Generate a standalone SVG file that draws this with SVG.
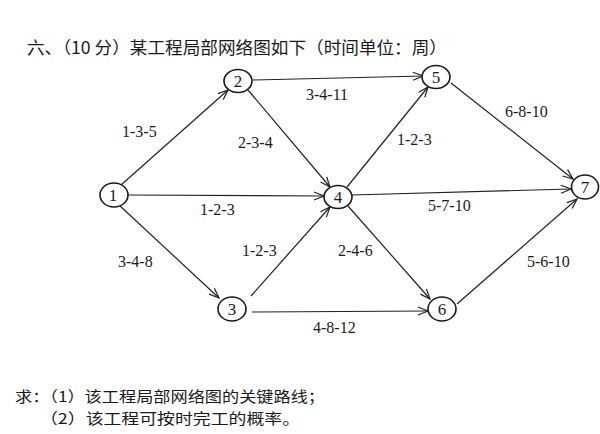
<svg xmlns="http://www.w3.org/2000/svg" width="600" height="434" viewBox="0 0 600 434">
<style>
.bg{fill:#fff}
.node ellipse{fill:#fff;stroke:#1a1a1a;stroke-width:1.6}
.node text{font-family:'Liberation Serif','DejaVu Serif','Times New Roman',serif;font-size:17px;fill:#1a1a1a;text-anchor:middle}
.edge{stroke:#222;stroke-width:1.2;fill:none;marker-end:url(#arr)}
.lbl{font-family:'Liberation Serif','DejaVu Serif','Times New Roman',serif;font-size:16px;fill:#1a1a1a}
.cn{font-family:'Noto Sans CJK SC',sans-serif;fill:#1a1a1a}
</style>
<defs>
<marker id="arr" viewBox="0 0 12 10" refX="11" refY="5" markerWidth="12" markerHeight="10" markerUnits="userSpaceOnUse" orient="auto">
<path d="M1,1 L11,5 L1,9" fill="none" stroke="#222" stroke-width="1.2"/>
</marker>
</defs>
<rect class="bg" width="600" height="434"/>
<text class="cn" x="27" y="54" font-size="17" textLength="420" lengthAdjust="spacingAndGlyphs">六、（10 分）某工程局部网络图如下（时间单位：周）</text>
<g id="connectors">
<line class="edge" x1="253" y1="80" x2="423" y2="76"/>
<line class="edge" x1="121" y1="185" x2="228" y2="90"/>
<line class="edge" x1="248" y1="90" x2="330" y2="187"/>
<line class="edge" x1="128" y1="195" x2="324" y2="196"/>
<line class="edge" x1="119" y1="205" x2="219" y2="298"/>
<line class="edge" x1="251" y1="296" x2="330" y2="207"/>
<line class="edge" x1="252" y1="312" x2="428" y2="311"/>
<line class="edge" x1="347" y1="187" x2="428" y2="87"/>
<line class="edge" x1="352" y1="195" x2="571" y2="189"/>
<line class="edge" x1="348" y1="206" x2="430" y2="299"/>
<line class="edge" x1="451" y1="83" x2="573" y2="179"/>
<line class="edge" x1="457" y1="304" x2="577" y2="199"/>
</g>
<g id="labels">
<text class="lbl" x="122" y="137">1-3-5</text>
<text class="lbl" x="306" y="100">3-4-11</text>
<text class="lbl" x="238" y="148">2-3-4</text>
<text class="lbl" x="200" y="215">1-2-3</text>
<text class="lbl" x="397" y="145">1-2-3</text>
<text class="lbl" x="505" y="117">6-8-10</text>
<text class="lbl" x="428" y="211">5-7-10</text>
<text class="lbl" x="118" y="267">3-4-8</text>
<text class="lbl" x="242" y="256">1-2-3</text>
<text class="lbl" x="313" y="333">4-8-12</text>
<text class="lbl" x="338" y="256">2-4-6</text>
<text class="lbl" x="527" y="267">5-6-10</text>
</g>
<g id="node1" class="node"><ellipse cx="114" cy="195" rx="14" ry="12"/><text x="113" y="201">1</text></g>
<g id="node2" class="node"><ellipse cx="238" cy="81" rx="14" ry="11.5"/><text x="238" y="87">2</text></g>
<g id="node3" class="node"><ellipse cx="232" cy="309" rx="14" ry="12"/><text x="232" y="315">3</text></g>
<g id="node4" class="node"><ellipse cx="338" cy="197" rx="14" ry="11.5"/><text x="338" y="203">4</text></g>
<g id="node5" class="node"><ellipse cx="436" cy="77" rx="14" ry="11.5"/><text x="436" y="83">5</text></g>
<g id="node6" class="node"><ellipse cx="442" cy="309" rx="14" ry="12"/><text x="442" y="315">6</text></g>
<g id="node7" class="node"><ellipse cx="585" cy="187" rx="13.5" ry="12"/><text x="585" y="193">7</text></g>
<text class="cn" x="15" y="402" font-size="15" textLength="310" lengthAdjust="spacingAndGlyphs">求：（1）该工程局部网络图的关键路线；</text>
<text class="cn" x="40" y="424" font-size="15" textLength="260" lengthAdjust="spacingAndGlyphs">（2）该工程可按时完工的概率。</text>
</svg>
